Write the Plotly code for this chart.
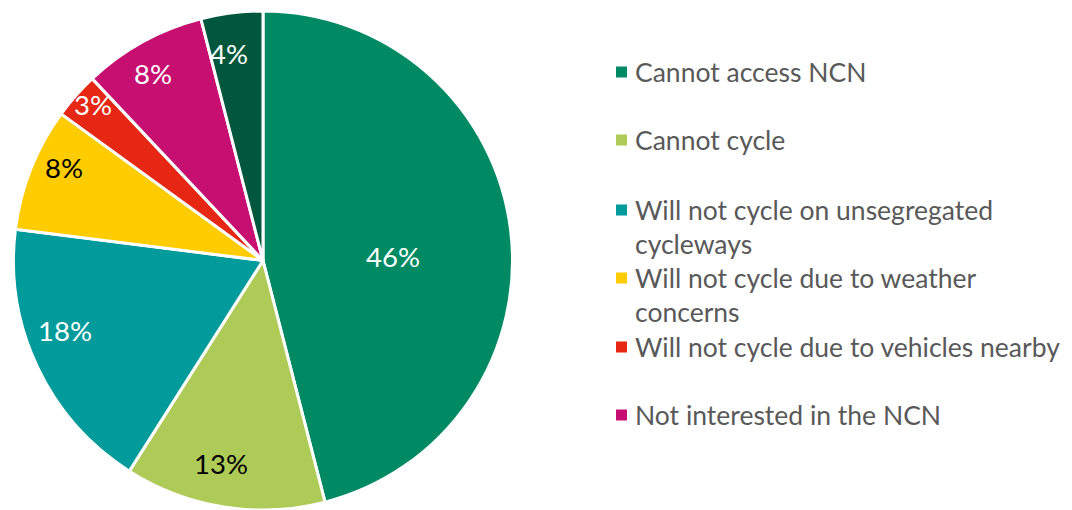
import math
import plotly.graph_objects as go

# Reasons for not using the National Cycle Network (share of respondents, %)
categories = [
    "Cannot access NCN",
    "Cannot cycle",
    "Will not cycle on unsegregated cycleways",
    "Will not cycle due to weather concerns",
    "Will not cycle due to vehicles nearby",
    "Not interested in the NCN",
    "Other",
]
shares = [46, 13, 18, 8, 3, 8, 4]

# Legend text (wrapped) for the first six categories
legend_labels = [
    "Cannot access NCN",
    "Cannot cycle",
    "Will not cycle on unsegregated<br>cycleways",
    "Will not cycle due to weather<br>concerns",
    "Will not cycle due to vehicles nearby",
    "Not interested in the NCN",
]

colors = ["#008A64", "#AFCB57", "#009B9A", "#FFCC00", "#E52713", "#C70E71", "#00573B"]
label_colors = ["white", "black", "white", "black", "white", "white", "white"]
# percentage label placement: radius as fraction of pie radius, and a small
# angular nudge (degrees) away from each slice's bisector
label_radius = [0.52, 0.83, 0.84, 0.88, 0.925, 0.87, 0.84]
label_nudge = [5.5, 2.6, 5.7, 3.6, 1.2, -1.6, -2.1]

W, H = 1072, 510
FONT = "Lato"
LEGEND_SIZE = 26.5
LABEL_SIZE = 27.5
TEXT_GREY = "#595959"

dom_x = [0, 526 / W]
dom_y = [0, 1 - 11 / H]

fig = go.Figure()
fig.add_trace(go.Pie(
    labels=categories,
    values=shares,
    sort=False,
    direction="clockwise",
    rotation=0,
    marker=dict(colors=colors, line=dict(color="white", width=3)),
    textinfo="none",
    domain=dict(x=dom_x, y=dom_y),
    showlegend=False,
    hoverinfo="label+percent",
))

# Pie geometry in pixels (margins are zero, so paper == pixels / size)
cx = (dom_x[0] + dom_x[1]) / 2 * W
cy = H - (dom_y[0] + dom_y[1]) / 2 * H
radius = min((dom_x[1] - dom_x[0]) * W, (dom_y[1] - dom_y[0]) * H) / 2

annotations, shapes = [], []

# Percentage labels placed near each slice's bisector
total = sum(shares)
cum = 0
for v, col, rf, nudge in zip(shares, label_colors, label_radius, label_nudge):
    mid = (cum + v / 2) / total * 2 * math.pi + math.radians(nudge)  # clockwise from 12 o'clock
    cum += v
    px = cx + rf * radius * math.sin(mid)
    py = cy - rf * radius * math.cos(mid)
    annotations.append(dict(
        xref="paper", yref="paper", x=px / W, y=(H - py) / H,
        xanchor="center", yanchor="middle", showarrow=False,
        text=f"{v}%", font=dict(family=FONT, size=LABEL_SIZE, color=col),
    ))

# Hand-placed legend: square swatch plus wrapped text, one slot per category
first_line_y = [72, 140, 210, 278, 347, 415]
line_gap = 33
sw_x0, sw_size, text_x = 616, 11, 633
for label, color, y in zip(legend_labels, colors, first_line_y):
    n_lines = label.count("<br>") + 1
    shapes.append(dict(
        type="rect", xref="paper", yref="paper",
        x0=sw_x0 / W, x1=(sw_x0 + sw_size) / W,
        y0=(H - y - sw_size / 2) / H, y1=(H - y + sw_size / 2) / H,
        fillcolor=color, line=dict(width=0),
    ))
    mid = y + (n_lines - 1) * line_gap / 2
    annotations.append(dict(
        xref="paper", yref="paper", x=text_x / W, y=(H - mid) / H,
        xanchor="left", yanchor="middle", align="left", showarrow=False,
        text=label, font=dict(family=FONT, size=LEGEND_SIZE, color=TEXT_GREY),
    ))

fig.update_layout(
    width=W, height=H,
    margin=dict(l=0, r=0, t=0, b=0),
    paper_bgcolor="white", plot_bgcolor="white",
    shapes=shapes, annotations=annotations,
)

fig.write_html("out.html")
